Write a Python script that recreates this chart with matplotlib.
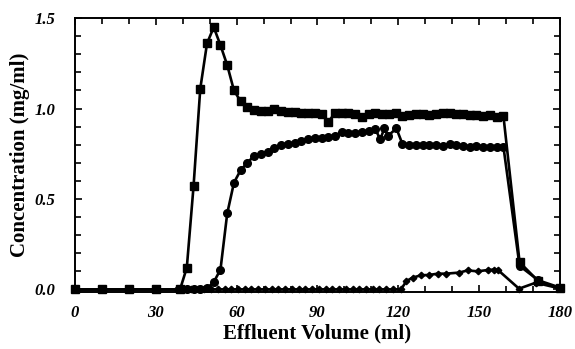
import matplotlib
matplotlib.use('Agg')
import matplotlib.pyplot as plt
from matplotlib.ticker import MultipleLocator

# squares (upper curve)
vol_sq = [0, 10, 20, 30, 39, 41.5, 44, 46.5, 49, 51.5, 54, 56.5, 59, 61.5, 64,
          66.5, 69, 71.5, 74, 76.5, 79, 81.5, 84, 86.5, 89, 91.5, 94, 96.5, 99,
          101.5, 104, 106.5, 109, 111.5, 114, 116.5, 119, 121.5, 124, 126.5,
          129, 131.5, 134, 136.5, 139, 141.5, 144, 146.5, 149, 151.5, 154,
          156.5, 159, 165, 172, 180]
conc_sq = [0, 0, 0, 0, 0, 0.12, 0.57, 1.11, 1.36, 1.45, 1.35, 1.24, 1.10, 1.04,
           1.01, 0.99, 0.985, 0.985, 1.0, 0.985, 0.98, 0.98, 0.975, 0.975,
           0.975, 0.97, 0.926, 0.975, 0.975, 0.975, 0.97, 0.955, 0.97, 0.975,
           0.97, 0.97, 0.975, 0.96, 0.965, 0.97, 0.97, 0.965, 0.97, 0.975,
           0.975, 0.97, 0.97, 0.965, 0.965, 0.96, 0.965, 0.955, 0.96, 0.15,
           0.045, 0.005]

# circles (middle curve)
vol_ci = [0, 10, 20, 30, 39, 41.5, 44, 46.5, 49, 51.5, 54, 56.5, 59, 61.5, 64,
          66.5, 69, 71.5, 74, 76.5, 79, 81.5, 84, 86.5, 89, 91.5, 94, 96.5, 99,
          101.5, 104, 106.5, 109, 111.5, 113.3, 114.8, 116.2, 119.3, 121.5,
          124, 126.5, 129, 131.5, 134, 136.5, 139, 141.5, 144, 146.5, 149,
          151.5, 154, 156.5, 159, 165, 172, 180]
conc_ci = [0, 0, 0, 0, 0, 0, 0, 0, 0.005, 0.04, 0.11, 0.42, 0.59, 0.66, 0.70,
           0.74, 0.75, 0.76, 0.78, 0.80, 0.805, 0.81, 0.82, 0.83, 0.835, 0.835,
           0.845, 0.85, 0.87, 0.865, 0.865, 0.87, 0.875, 0.885, 0.83, 0.89,
           0.85, 0.89, 0.805, 0.80, 0.80, 0.80, 0.80, 0.80, 0.795, 0.805, 0.80,
           0.795, 0.79, 0.795, 0.79, 0.79, 0.79, 0.79, 0.13, 0.05, 0.01]

# diamonds (lower curve)
vol_di = [0, 10, 20, 30, 38, 40.5, 43, 45.5, 48, 50.5, 53, 55.5, 58, 60.5, 63,
          65.5, 68, 70.5, 73, 75.5, 78, 80.5, 83, 85.5, 88, 90.5, 93, 95.5, 98,
          100.5, 103, 105.5, 108, 110.5, 113, 115.5, 118, 121, 123, 125.3,
          128.4, 131.5, 134.6, 137.7, 142.6, 145.7, 149.4, 153.1, 155.6, 157,
          164.8, 171, 180]
conc_di = [0] * 37 + [0, 0.046, 0.065, 0.078, 0.08, 0.087, 0.087, 0.093, 0.105,
                      0.10, 0.107, 0.11, 0.107, 0.004, 0.037, 0.005]

x_ticks = [0, 30, 60, 90, 120, 150, 180]
y_ticks = [0.0, 0.5, 1.0, 1.5]

serif = ['Liberation Serif', 'DejaVu Serif']

fig = plt.figure(figsize=(5.75, 3.49), dpi=100)
ax = fig.add_axes([0.1304, 0.163, 0.8435, 0.785])

ax.plot(vol_sq, conc_sq, color='black', lw=1.9, marker='s', ms=5.5,
        clip_on=False, zorder=3)
ax.plot(vol_ci, conc_ci, color='black', lw=1.9, marker='o', ms=5.5,
        clip_on=False, zorder=3)
ax.plot(vol_di, conc_di, color='black', lw=1.9, marker='D', ms=3.3,
        clip_on=False, zorder=3)

ax.set_xlim(0, 180)
ax.set_ylim(-0.015, 1.5)
ax.set_xticks(x_ticks)
ax.set_yticks(y_ticks)
ax.set_xticklabels([str(t) for t in x_ticks])
ax.set_yticklabels(['%.1f' % t for t in y_ticks])
ax.xaxis.set_minor_locator(MultipleLocator(10))
ax.yaxis.set_minor_locator(MultipleLocator(0.1))
ax.tick_params(which='both', direction='in', top=True, right=True, width=1.2)
ax.tick_params(which='major', length=5)
ax.tick_params(which='minor', length=4)
ax.tick_params(axis='x', pad=9)
ax.tick_params(axis='y', pad=14)
for lab in ax.get_xticklabels() + ax.get_yticklabels():
    lab.set_family(serif)
    lab.set_style('italic')
    lab.set_weight('bold')
    lab.set_fontsize(12)
for sp in ax.spines.values():
    sp.set_linewidth(1.4)

ax.set_xlabel('Effluent Volume (ml)', family=serif, fontweight='bold',
              fontsize=15, labelpad=2)
ax.set_ylabel('Concentration (mg/ml)', family=serif, fontweight='bold',
              fontsize=15, labelpad=3)

fig.savefig('out.png', dpi=100)
